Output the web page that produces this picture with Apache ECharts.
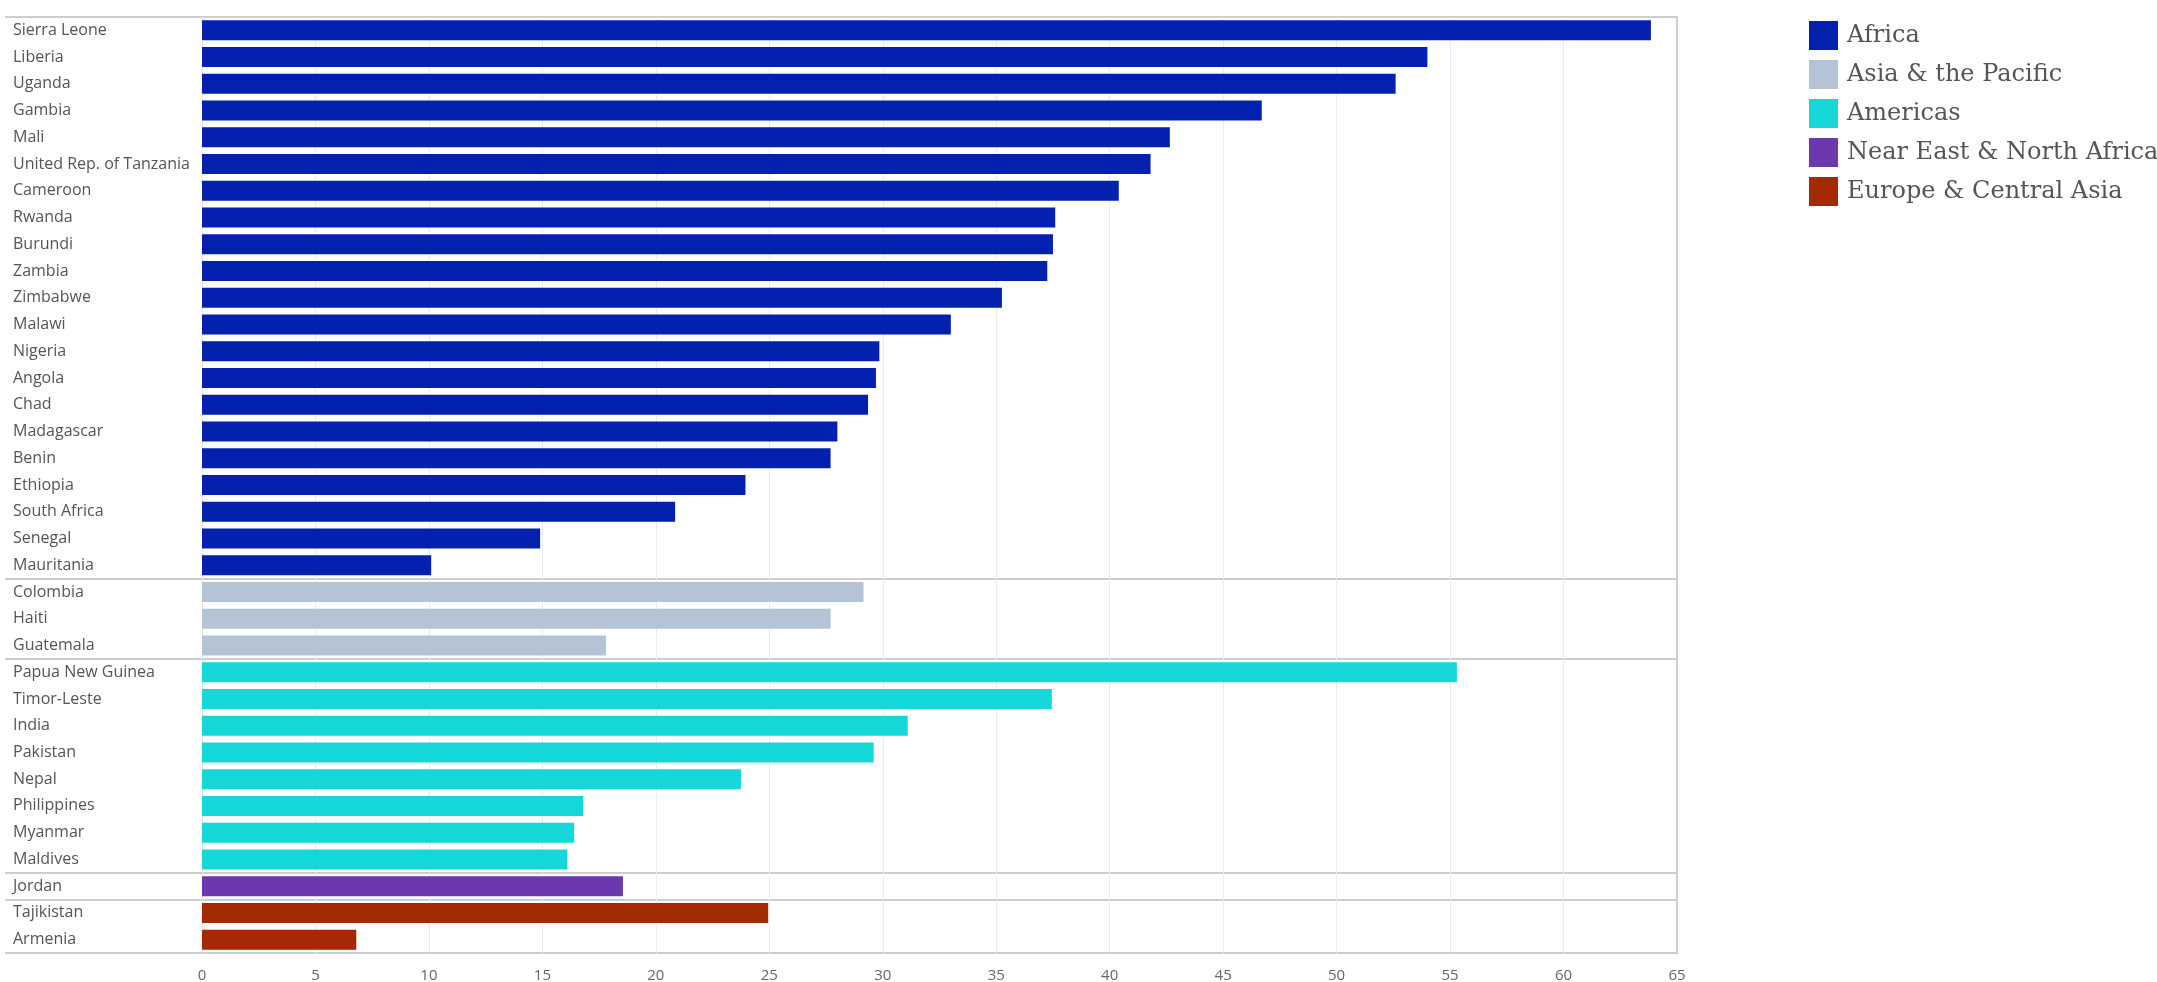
<!DOCTYPE html>
<html>
<head>
<meta charset="utf-8">
<script src="https://cdn.jsdelivr.net/npm/echarts@6/dist/echarts.min.js"></script>
<style>html,body{margin:0;padding:0;background:#fff;}#c{width:2157px;height:982px;}</style>
</head>
<body>
<div id="c"></div>
<script>
// ---- Data ----
const regionNames = ['Africa', 'Asia & the Pacific', 'Americas', 'Near East & North Africa', 'Europe & Central Asia'];
const regionColors = ['#0321AE', '#B4C4D6', '#16D7D7', '#6C38AE', '#A32A02'];

const africaCountries = ['Sierra Leone', 'Liberia', 'Uganda', 'Gambia', 'Mali', 'United Rep. of Tanzania', 'Cameroon', 'Rwanda', 'Burundi', 'Zambia', 'Zimbabwe', 'Malawi', 'Nigeria', 'Angola', 'Chad', 'Madagascar', 'Benin', 'Ethiopia', 'South Africa', 'Senegal', 'Mauritania'];
const africaValues = [63.85, 54.0, 52.6, 46.7, 42.65, 41.8, 40.4, 37.6, 37.5, 37.25, 35.25, 33.0, 29.85, 29.7, 29.35, 28.0, 27.7, 23.95, 20.85, 14.9, 10.1];

const asiaPacificCountries = ['Colombia', 'Haiti', 'Guatemala'];
const asiaPacificValues = [29.15, 27.7, 17.8];

const americasCountries = ['Papua New Guinea', 'Timor-Leste', 'India', 'Pakistan', 'Nepal', 'Philippines', 'Myanmar', 'Maldives'];
const americasValues = [55.3, 37.45, 31.1, 29.6, 23.75, 16.8, 16.4, 16.1];

const nearEastCountries = ['Jordan'];
const nearEastValues = [18.55];

const europeCountries = ['Tajikistan', 'Armenia'];
const europeValues = [24.95, 6.8];

const xTicks = [0, 5, 10, 15, 20, 25, 30, 35, 40, 45, 50, 55, 60, 65];

// ---- Build ----
const groups = [
  [africaCountries, africaValues],
  [asiaPacificCountries, asiaPacificValues],
  [americasCountries, americasValues],
  [nearEastCountries, nearEastValues],
  [europeCountries, europeValues]
];
const categories = [];
const groupStarts = [];
groups.forEach(g => { groupStarts.push(categories.length); categories.push(...g[0]); });

const series = groups.map((g, gi) => {
  const data = categories.map(() => null);
  g[1].forEach((v, i) => { data[groupStarts[gi] + i] = v; });
  return {
    name: regionNames[gi],
    type: 'bar',
    stack: 'all',
    xAxisIndex: 0,
    yAxisIndex: 0,
    barWidth: 20,
    itemStyle: { color: regionColors[gi] },
    data: data
  };
});

const sepLine = { show: true, interval: (idx) => groupStarts.indexOf(idx) >= 0, lineStyle: { color: '#cdcdcd', width: 2 } };
const TOP = 17, BOTTOM = 29;

const chart = echarts.init(document.getElementById('c'), null, { renderer: 'canvas' });
chart.setOption({
  animation: false,
  backgroundColor: '#ffffff',
  legend: {
    orient: 'vertical',
    left: 1804,
    top: 16,
    itemWidth: 29,
    itemHeight: 29,
    itemGap: 10,
    icon: 'rect',
    data: regionNames,
    textStyle: { fontFamily: 'DejaVu Serif', fontSize: 24, color: '#555', padding: [5, 0, 0, 4] }
  },
  grid: [
    { left: 202, right: 480, top: TOP, bottom: BOTTOM, outerBoundsMode: 'none', containLabel: false },
    { left: 5, width: 197, top: TOP, bottom: BOTTOM, outerBoundsMode: 'none', containLabel: false }
  ],
  xAxis: [
    {
      type: 'value', gridIndex: 0, min: 0, max: 65, interval: 5,
      axisLine: { show: false }, axisTick: { show: false },
      splitLine: { show: true, lineStyle: { color: '#ececec', width: 1 } },
      axisLabel: { color: '#666', fontFamily: 'Open Sans', fontSize: 15, margin: 15,
        formatter: v => xTicks.indexOf(v) >= 0 ? String(v) : '' }
    },
    { type: 'value', gridIndex: 1, show: false, min: 0, max: 1 }
  ],
  yAxis: [
    {
      type: 'category', gridIndex: 0, data: categories, inverse: true,
      axisLine: { show: true, lineStyle: { color: '#e4e4e4', width: 1 } },
      axisTick: { show: false },
      axisLabel: { align: 'left', margin: 189, color: '#555', fontFamily: 'Open Sans', fontSize: 16, padding: [5, 0, 0, 0] },
      splitLine: sepLine
    },
    {
      type: 'category', gridIndex: 1, data: categories, inverse: true,
      axisLine: { show: false }, axisTick: { show: false }, axisLabel: { show: false },
      splitLine: sepLine
    },
    {
      type: 'category', gridIndex: 0, data: categories, inverse: true, position: 'right',
      axisLine: { show: true, lineStyle: { color: '#cfcfcf', width: 2 } },
      axisTick: { show: false }, axisLabel: { show: false }, splitLine: { show: false }
    }
  ],
  series: series
});
</script>
</body>
</html>
